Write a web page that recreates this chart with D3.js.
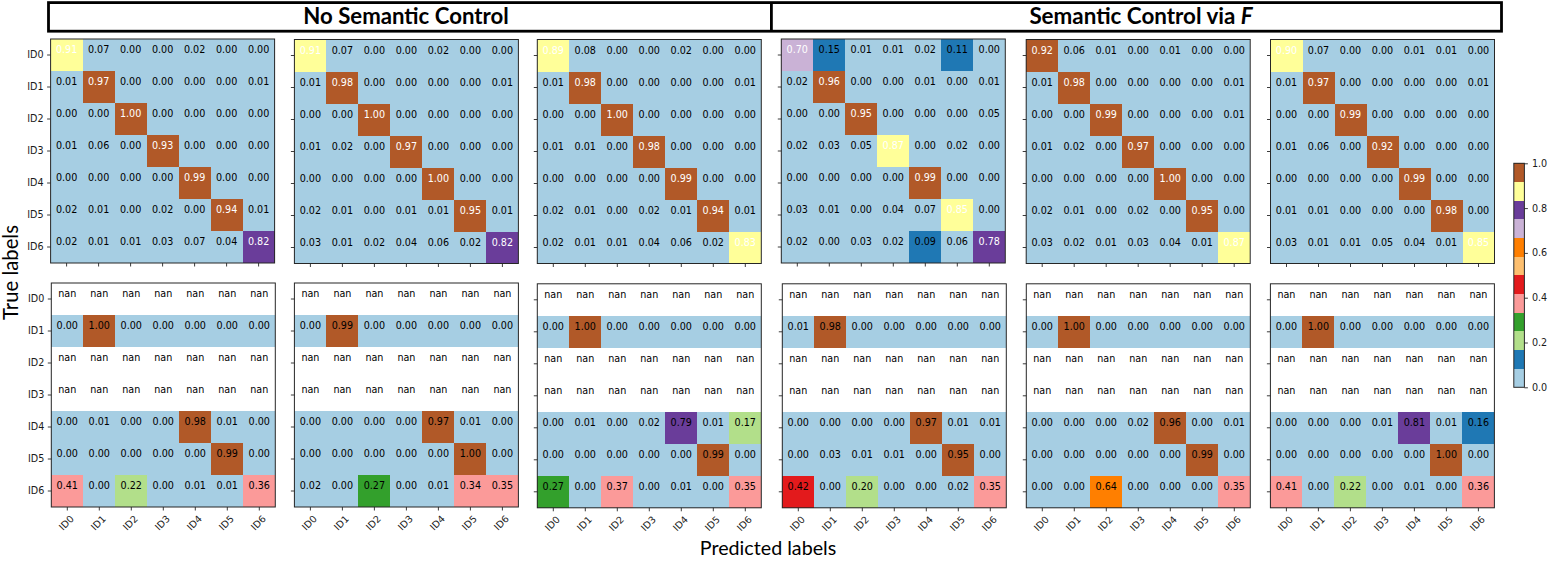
<!DOCTYPE html>
<html><head><meta charset="utf-8">
<script src="https://cdn.jsdelivr.net/npm/d3@7"></script>
<style>
html,body{margin:0;padding:0;background:#fff;overflow:hidden}
svg{display:block}
.cap{font-family:Lato,"Noto Sans",sans-serif;fill:#000}
.num{font-family:"DejaVu Sans",sans-serif;font-size:9.6px}
.tick text{font-family:"DejaVu Sans",sans-serif;font-size:9.6px;fill:#1a1a1a}
.tick line{stroke:#262626;stroke-width:.9}
.cell{shape-rendering:crispEdges}
</style></head><body>
<svg id="c" width="1559" height="561"></svg>
<script>
const labels = ["ID0","ID1","ID2","ID3","ID4","ID5","ID6"];
const N = NaN;
const nanRow = [N,N,N,N,N,N,N];

const top1 = [[.91,.07,0,0,.02,0,0],[.01,.97,0,0,0,0,.01],[0,0,1,0,0,0,0],[.01,.06,0,.93,0,0,0],[0,0,0,0,.99,0,0],[.02,.01,0,.02,0,.94,.01],[.02,.01,.01,.03,.07,.04,.82]];
const top2 = [[.91,.07,0,0,.02,0,0],[.01,.98,0,0,0,0,.01],[0,0,1,0,0,0,0],[.01,.02,0,.97,0,0,0],[0,0,0,0,1,0,0],[.02,.01,0,.01,.01,.95,.01],[.03,.01,.02,.04,.06,.02,.82]];
const top3 = [[.89,.08,0,0,.02,0,0],[.01,.98,0,0,0,0,.01],[0,0,1,0,0,0,0],[.01,.01,0,.98,0,0,0],[0,0,0,0,.99,0,0],[.02,.01,0,.02,.01,.94,.01],[.02,.01,.01,.04,.06,.02,.834]];
const top4 = [[.70,.15,.01,.01,.02,.11,0],[.02,.96,0,0,.01,0,.01],[0,0,.95,0,0,0,.05],[.02,.03,.05,.87,0,.02,0],[0,0,0,0,.99,0,0],[.03,.01,0,.04,.07,.85,0],[.02,0,.03,.02,.09,.06,.78]];
const top5 = [[.92,.06,.01,0,.01,0,0],[.01,.98,0,0,0,0,.01],[0,0,.99,0,0,0,.01],[.01,.02,0,.97,0,0,0],[0,0,0,0,1,0,0],[.02,.01,0,.02,0,.95,0],[.03,.02,.01,.03,.04,.01,.87]];
const top6 = [[.90,.07,0,0,.01,.01,0],[.01,.97,0,0,0,0,.01],[0,0,.99,0,0,0,0],[.01,.06,0,.92,0,0,0],[0,0,0,0,.99,0,0],[.01,.01,0,0,0,.98,0],[.03,.01,.01,.05,.04,.01,.85]];

const bot1 = [nanRow,[0,1,0,0,0,0,0],nanRow,nanRow,[0,.01,0,0,.98,.01,0],[0,0,0,0,0,.99,0],[.41,0,.22,0,.01,.01,.36]];
const bot2 = [nanRow,[0,.99,0,0,0,0,0],nanRow,nanRow,[0,0,0,0,.97,.01,0],[0,0,0,0,0,1,0],[.02,0,.27,0,.01,.34,.35]];
const bot3 = [nanRow,[0,1,0,0,0,0,0],nanRow,nanRow,[0,.01,0,.02,.79,.01,.17],[0,0,0,0,0,.99,0],[.27,0,.37,0,.01,0,.35]];
const bot4 = [nanRow,[.01,.98,0,0,0,0,0],nanRow,nanRow,[0,0,0,0,.97,.01,.01],[0,.03,.01,.01,0,.95,0],[.42,0,.20,0,0,.02,.35]];
const bot5 = [nanRow,[0,1,0,0,0,0,0],nanRow,nanRow,[0,0,0,.02,.96,0,.01],[0,0,0,0,0,.99,0],[0,0,.64,0,0,0,.35]];
const bot6 = [nanRow,[0,1,0,0,0,0,0],nanRow,nanRow,[0,0,0,.01,.81,.01,.16],[0,0,0,0,0,1,0],[.41,0,.22,0,.01,0,.36]];

const colorbarTicks = [0,.2,.4,.6,.8,1];

const svg = d3.select("#c");
const color = d3.scaleQuantize().domain([0,1]).range(d3.schemePaired);
const SIZE = 224;

function panel(m, x0, y0, opts){
  const x = d3.scaleBand().domain(labels).range([x0, x0+SIZE]);
  const y = d3.scaleBand().domain(labels).range([y0, y0+SIZE]);
  const g = svg.append("g");
  labels.forEach((ry,r)=>labels.forEach((cx,c)=>{
    const v = m[r][c];
    if(!isNaN(v)) g.append("rect").attr("class","cell").attr("x",x(cx)).attr("y",y(ry)).attr("width",x.bandwidth()).attr("height",y.bandwidth()).attr("fill",color(v));
    g.append("text").attr("class","num")
      .attr("x",x(cx)+x.bandwidth()/2).attr("y",y(ry)+y.bandwidth()/2-1.6)
      .attr("text-anchor","middle")
      .attr("fill", opts.whiteHigh && v>0.5 ? "#fff" : "#000")
      .text(isNaN(v) ? "nan" : v.toFixed(2));
  }));
  g.append("rect").attr("x",x0).attr("y",y0).attr("width",SIZE).attr("height",SIZE)
    .attr("fill","none").attr("stroke","#262626").attr("stroke-width",1);
  const ax = g.append("g").attr("transform",`translate(0,${y0+SIZE})`)
    .call(d3.axisBottom(x).tickSize(3.5).tickPadding(3).tickFormat(opts.xLabels?null:""));
  const ay = g.append("g").attr("transform",`translate(${x0},0)`)
    .call(d3.axisLeft(y).tickSize(3.5).tickPadding(3.5).tickFormat(opts.yLabels?null:""));
  ax.select(".domain").remove(); ay.select(".domain").remove();
  if(opts.xLabels){
    ax.selectAll(".tick text").attr("text-anchor","middle").attr("dy",null).attr("x",0).attr("y",0)
      .attr("dominant-baseline","central")
      .attr("transform","translate(-1,15.8) rotate(-45)");
  }
}

const topX = [50.6,294.4,537.3,781.3,1026.2,1270.5];
const topY = [39,39.5,39.5,39,39.5,39.5];
const botX = [51.3,294.4,537.3,782.3,1026.3,1270.4];
const botY = [283,283,283.8,283.8,283.8,283.8];
[top1,top2,top3,top4,top5,top6].forEach((m,i)=>panel(m,topX[i],topY[i],{whiteHigh:true,yLabels:i===0,xLabels:false}));
[bot1,bot2,bot3,bot4,bot5,bot6].forEach((m,i)=>panel(m,botX[i],botY[i],{whiteHigh:false,yLabels:i===0,xLabels:true}));

// header boxes
svg.append("rect").attr("x",48.5).attr("y",2.6).attr("width",1453).attr("height",28.6).attr("fill","none").attr("stroke","#000").attr("stroke-width",2.8);
svg.append("line").attr("x1",771.4).attr("x2",771.4).attr("y1",2.6).attr("y2",31.2).attr("stroke","#000").attr("stroke-width",2.8);
svg.append("text").attr("class","cap").attr("x",406).attr("y",23.6).attr("text-anchor","middle")
  .style("font-size","22.2px").style("font-weight",700).text("No Semantic Control");
const t2 = svg.append("text").attr("class","cap").attr("x",1141).attr("y",23.6).attr("text-anchor","middle")
  .style("font-size","22.4px").style("font-weight",700);
t2.append("tspan").text("Semantic Control via ");
t2.append("tspan").style("font-style","italic").text("F");

// axis titles
svg.append("text").attr("class","cap").attr("transform","translate(18,272.5) rotate(-90)").attr("text-anchor","middle")
  .style("font-size","20.3px").text("True labels");
svg.append("text").attr("class","cap").attr("x",768).attr("y",555).attr("text-anchor","middle")
  .style("font-size","19.7px").text("Predicted labels");

// colorbar
const cbX = 1513.8, cbW = 10.6;
const cb = d3.scaleLinear().domain([0,1]).range([387.3,163.3]);
const cbG = svg.append("g");
d3.schemePaired.forEach((col)=>{
  const [a,b] = color.invertExtent(col);
  cbG.append("rect").attr("class","cell").attr("x",cbX).attr("width",cbW).attr("y",cb(b)).attr("height",cb(a)-cb(b)).attr("fill",col);
});
cbG.append("rect").attr("x",cbX).attr("width",cbW).attr("y",cb(1)).attr("height",cb(0)-cb(1)).attr("fill","none").attr("stroke","#262626").attr("stroke-width",1);
const cbAxis = cbG.append("g").attr("transform",`translate(${cbX+cbW},0)`)
  .call(d3.axisRight(cb).tickValues(colorbarTicks).tickFormat(d3.format(".1f")).tickSize(3.5).tickPadding(4));
cbAxis.select(".domain").remove();
</script>
</body></html>
